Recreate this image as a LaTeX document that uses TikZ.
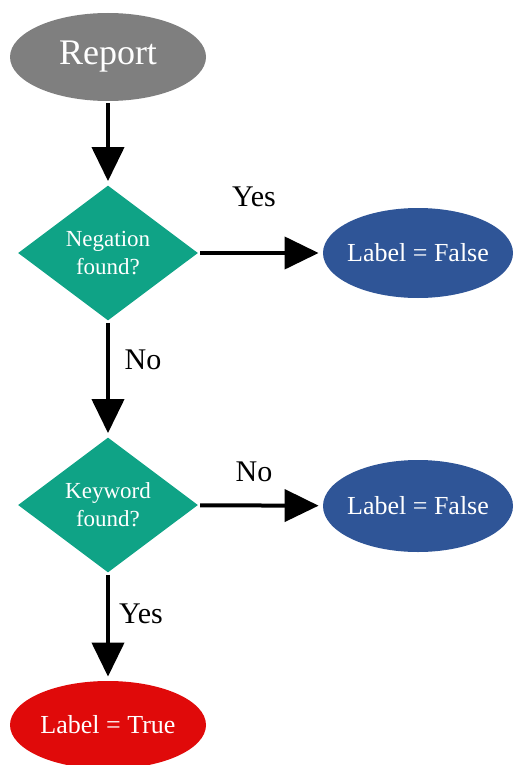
\documentclass[tikz,border=0pt]{standalone}
\usepackage{fontspec}
\setmainfont{Liberation Serif}
\usetikzlibrary{shapes.geometric,arrows.meta}
\definecolor{repgray}{HTML}{7F7F7F}
\definecolor{decteal}{HTML}{0FA386}
\definecolor{falseblue}{HTML}{2F5597}
\definecolor{truered}{HTML}{E00A0A}
\begin{document}
\begin{tikzpicture}[x=0.5pt,y=-0.5pt]
        \tikzstyle{every node}=[inner sep=0pt, text=white, align=center]
        \tikzstyle{oval}=[ellipse, inner xsep=-6pt, minimum width=98pt, minimum height=44pt, font=\fontsize{13}{15}\selectfont]
        \tikzstyle{decision}=[diamond, fill=decteal, minimum width=90pt, minimum height=67.5pt, font=\fontsize{11.5}{14}\selectfont]
        \tikzstyle{lbl}=[text=black, font=\fontsize{15}{18}\selectfont]
        \tikzstyle{edge}=[black, line width=2pt, -{Triangle[length=17pt,width=16pt]}, shorten <=1pt, shorten >=2pt]

        \useasboundingbox (0,0) rectangle (514,765);

        \node[oval, fill=repgray, font=\fontsize{18}{20}\selectfont] (r) at (108,57) {Report};
        \node[decision] (n) at (108,253) {Negation\\found?};
        \node[decision] (k) at (108,505) {Keyword\\found?};
        \node[oval, fill=falseblue, minimum width=95pt, minimum height=45pt] (f1) at (418,253) {Label = False};
        \node[oval, fill=falseblue, minimum width=95pt, minimum height=46pt] (f2) at (418,506) {Label = False};
        \node[oval, fill=truered] (t) at (108,725) {Label = True};

        \node[lbl] (y1) at (254,197) {Yes};
        \node[lbl] (n1) at (143,360) {No};
        \node[lbl] (n2) at (254,472) {No};
        \node[lbl] (y2) at (141,614) {Yes};

        \draw[edge] (r) -- (n);
        \draw[edge] (n) -- (f1);
        \draw[edge] (n) -- (k);
        \draw[edge] (k) -- (f2);
        \draw[edge] (k) -- (t);
    \end{tikzpicture}
\end{document}
